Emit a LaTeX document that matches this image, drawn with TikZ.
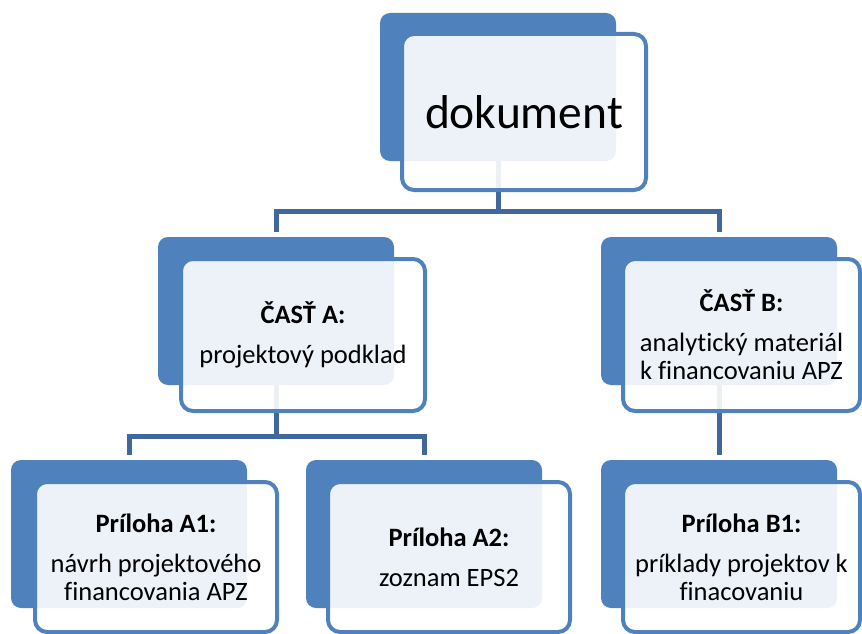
\documentclass[tikz,border=0pt]{standalone}
\usepackage{fontspec}
\setmainfont{Carlito}[Ligatures={NoCommon}]
\pgfdeclarelayer{bg}
\pgfsetlayers{bg,main}
\definecolor{accblue}{HTML}{4F81BD}
\definecolor{connblue}{HTML}{41689C}
\tikzset{
  backbox/.style={fill=accblue, rounded corners=10pt, minimum width=236pt, minimum height=148pt, inner sep=0pt, outer sep=0pt, anchor=north west},
  frontbox/.style={draw=accblue, line width=4pt, fill=white, fill opacity=0.9, text opacity=1, rounded corners=12pt, minimum width=244pt, minimum height=152pt, inner sep=0pt, outer sep=0pt, anchor=north west, align=center, font=\fontsize{26.5}{28}\selectfont},
  conn/.style={draw=connblue, line width=5pt, shorten >=5pt}
}
\begin{document}
\begin{tikzpicture}[x=1pt,y=-1pt]
\useasboundingbox (0,0) rectangle (862,634);
% back boxes
\node[backbox] (tb) at (380,13) {};
\node[backbox] (ab) at (158,237) {};
\node[backbox] (bb) at (601,237) {};
\node[backbox] (a1b) at (11,460) {};
\node[backbox] (a2b) at (306,460) {};
\node[backbox] (b1b) at (601,460) {};
% front boxes
\node[frontbox, minimum height=156pt, font=\fontsize{47.5}{50}\selectfont] (tf) at (402,34) {dokument};
\node[frontbox] (af) at (181,259) {\textbf{ČASŤ A:}\\[12pt]projektový podklad};
\node[frontbox, minimum width=237pt] (bf) at (623,259) {\textbf{ČASŤ B:}\\[12pt]analytický materiál\\k financovaniu APZ};
\node[frontbox, minimum width=242pt, minimum height=150pt] (a1f) at (35,482) {\textbf{Príloha A1:}\\[12pt]návrh projektového\\financovania APZ};
\node[frontbox, minimum width=242pt, minimum height=150pt] (a2f) at (328,482) {\textbf{Príloha A2:}\\[12pt]zoznam EPS2};
\node[frontbox, minimum width=237pt, minimum height=150pt] (b1f) at (623,482) {\textbf{Príloha B1:}\\[12pt]príklady projektov k\\finacovaniu};
% connectors
\begin{pgfonlayer}{bg}
\draw[conn] (tb.south) -- ++(0,50) -| (ab.north);
\draw[conn] (tb.south) -- ++(0,50) -| (bb.north);
\draw[conn] (ab.south) -- ++(0,51) -| (a1b.north);
\draw[conn] (ab.south) -- ++(0,51) -| (a2b.north);
\draw[conn] (bb.south) -- (b1b.north);
\end{pgfonlayer}
\end{tikzpicture}
\end{document}
